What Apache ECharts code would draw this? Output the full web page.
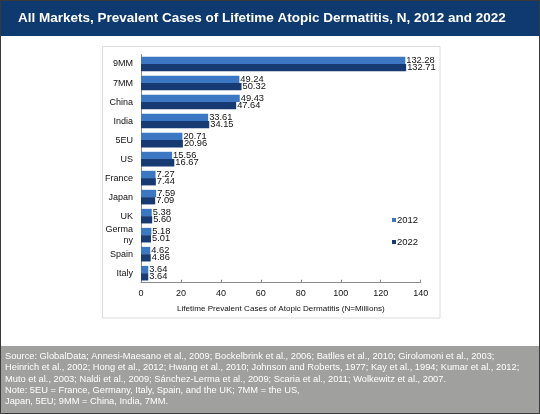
<!DOCTYPE html>
<html style="height: 100%">
<head>
    <meta charset="utf-8">
    <script type="text/javascript" src="https://cdn.jsdelivr.net/npm/echarts@6.0.0/dist/echarts.min.js"></script>
</head>
<body style="height: 100%; margin: 0; background-color: #fff;">
<div id="main" style="width: 540px; height: 414px;"></div>
<script>
// data
var markets = ['9MM', '7MM', 'China', 'India', '5EU', 'US', 'France', 'Japan', 'UK', 'Germa\nny', 'Spain', 'Italy'];
var cases2012 = [132.28, 49.24, 49.43, 33.61, 20.71, 15.56, 7.27, 7.59, 5.38, 5.18, 4.62, 3.64];
var cases2022 = [132.71, 50.32, 47.64, 34.15, 20.96, 16.67, 7.44, 7.09, 5.60, 5.01, 4.86, 3.64];
var xTicks = [0, 20, 40, 60, 80, 100, 120, 140];

var footLines = [
    'Source: GlobalData; Annesi-Maesano et al., 2009; Bockelbrink et al., 2006; Batlles et al., 2010; Girolomoni et al., 2003;',
    'Heinrich et al., 2002; Hong et al., 2012; Hwang et al., 2010; Johnson and Roberts, 1977; Kay et al., 1994; Kumar et al., 2012;',
    'Muto et al., 2003; Naldi et al., 2009; S\u00e1nchez-Lerma et al., 2009; Scaria et al., 2011; Wolkewitz et al., 2007.',
    'Note: 5EU = France, Germany, Italy, Spain, and the UK; 7MM = the US,',
    'Japan, 5EU; 9MM = China, India, 7MM.'
];

var FONT = 'Liberation Sans, Arial, sans-serif';
var chartDom = document.getElementById('main');
var myChart = echarts.init(chartDom, null, { renderer: 'canvas' });

var labelStyle = {
    show: true,
    position: 'right',
    distance: 1,
    fontSize: 9.3,
    fontFamily: FONT,
    color: '#111',
    formatter: function (p) {
        return p.value.toFixed(2);
    }
};

var option = {
    animation: false,
    graphic: [
        // title band
        { type: 'rect', shape: { x: 0, y: 0, width: 540, height: 36 }, style: { fill: '#0E3A6F' }, z: 0 },
        {
            type: 'text', left: 18, top: 11,
            style: { text: 'All Markets, Prevalent Cases of Lifetime Atopic Dermatitis, N, 2012 and 2022', fill: '#fff', font: 'bold 13.5px ' + FONT }
        },
        // chart box
        { type: 'rect', shape: { x: 102.5, y: 46.5, width: 337.5, height: 271.5 }, style: { fill: 'none', stroke: '#dcdcdc', lineWidth: 1 }, z: 0 },
        // footer band
        { type: 'rect', shape: { x: 0, y: 346, width: 540, height: 68 }, style: { fill: '#A0A09E' }, z: 0 },
        {
            type: 'text', left: 5, top: 351,
            style: { text: footLines.join('\n'), fill: '#fff', font: '9.3px ' + FONT, lineHeight: 11.2 }
        },
        // outer frame
        { type: 'rect', shape: { x: 0.5, y: 0.5, width: 539, height: 413 }, style: { fill: 'none', stroke: '#3a3a3a', lineWidth: 1 }, z: 10 }
    ],
    legend: {
        orient: 'vertical',
        left: 387,
        top: 210,
        itemWidth: 4,
        itemHeight: 4,
        itemGap: 12,
        icon: 'rect',
        textStyle: { fontSize: 9.5, fontFamily: FONT, color: '#111', padding: [0, 0, 0, -4] },
        data: ['2012', '2022']
    },
    grid: { left: 141, right: 119.3, top: 54.5, bottom: 131.3, containLabel: false },
    xAxis: {
        type: 'value',
        min: xTicks[0],
        max: xTicks[xTicks.length - 1],
        interval: 20,
        name: 'Lifetime Prevalent Cases of Atopic Dermatitis (N=Millions)',
        nameLocation: 'middle',
        nameGap: 22,
        nameTextStyle: { fontSize: 8.1, fontFamily: FONT, color: '#111' },
        axisLine: { show: true, lineStyle: { color: '#8a8a8a' } },
        axisTick: { show: true, inside: true, length: 3, lineStyle: { color: '#8a8a8a' } },
        axisLabel: { fontSize: 9, fontFamily: FONT, color: '#111', margin: 6 },
        splitLine: { show: false }
    },
    yAxis: {
        type: 'category',
        inverse: true,
        data: markets,
        axisLine: { show: true, lineStyle: { color: '#8a8a8a' } },
        axisTick: { show: false },
        axisLabel: { fontSize: 9, fontFamily: FONT, color: '#111', margin: 8, lineHeight: 11 }
    },
    series: [
        {
            name: '2012',
            type: 'bar',
            data: cases2012,
            barWidth: 7.3,
            barGap: '0%',
            itemStyle: { color: '#3B77C2' },
            label: labelStyle
        },
        {
            name: '2022',
            type: 'bar',
            data: cases2022,
            barWidth: 7.3,
            barGap: '0%',
            itemStyle: { color: '#183A72' },
            label: labelStyle
        }
    ]
};

myChart.setOption(option);
</script>
</body>
</html>
